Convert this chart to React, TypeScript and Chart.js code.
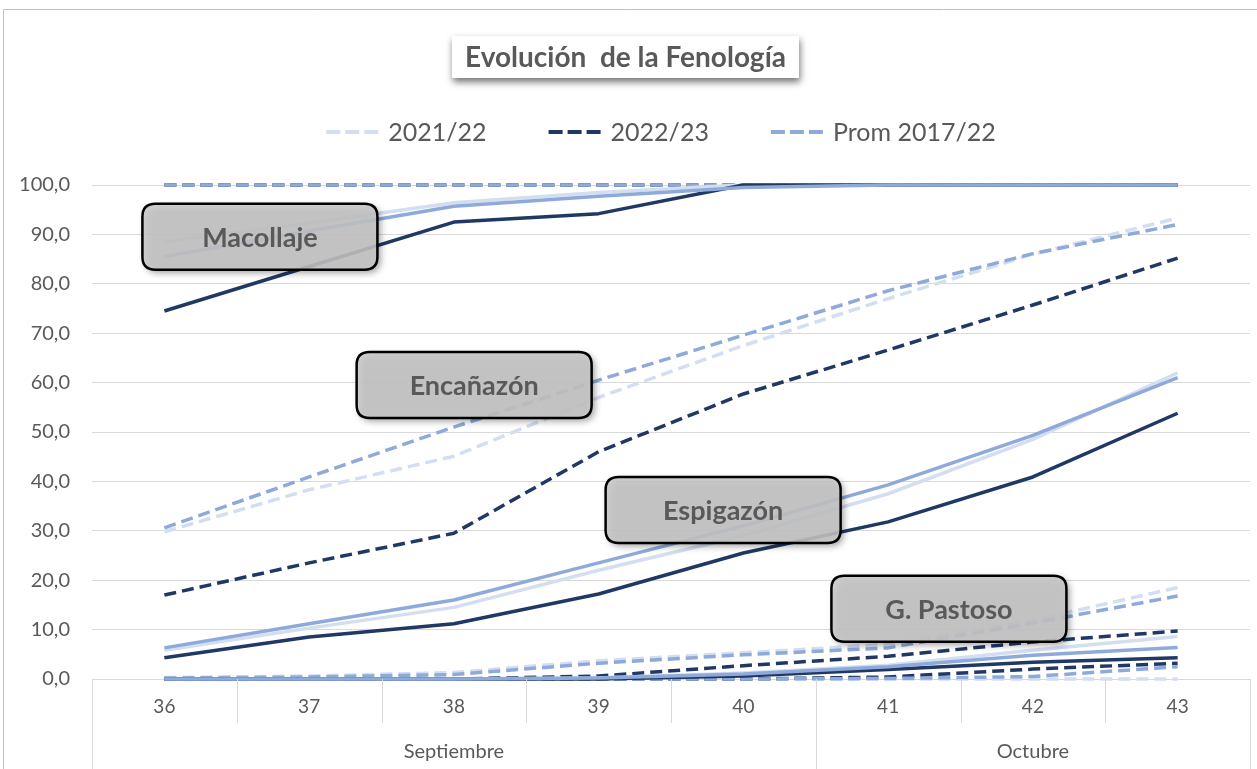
import { useEffect, useRef } from 'react';
import { Chart, registerables } from 'chart.js';

Chart.register(...registerables);

// ---------- data ----------
const weeks = ['36', '37', '38', '39', '40', '41', '42', '43'];
const months = ['Septiembre', 'Octubre'];
const monthSpans = [5, 3];
const seriesNames = ['2021/22', '2022/23', 'Prom 2017/22'];

const emergencia2122 = [100, 100, 100, 100, 100, 100, 100, 100];
const emergencia2223 = [100, 100, 100, 100, 100, 100, 100, 100];
const emergenciaProm = [100, 100, 100, 100, 100, 100, 100, 100];

const macollaje2122 = [88.5, 92.3, 96.4, 98.5, 100, 100, 100, 100];
const macollaje2223 = [74.5, 83.5, 92.5, 94.2, 100, 100, 100, 100];
const macollajeProm = [85.5, 90.7, 95.7, 97.7, 99.5, 100, 100, 100];

const encanazon2122 = [29.8, 38.3, 45.1, 57.0, 67.5, 77.0, 86.0, 93.3];
const encanazon2223 = [17.0, 23.5, 29.5, 46.0, 57.7, 66.6, 75.7, 85.2];
const encanazonProm = [30.6, 40.9, 51.0, 60.5, 69.6, 78.6, 86.1, 92.0];

const espigazon2122 = [5.8, 10.3, 14.5, 22.0, 29.0, 37.5, 48.5, 62.0];
const espigazon2223 = [4.3, 8.5, 11.2, 17.2, 25.5, 31.8, 40.9, 53.8];
const espigazonProm = [6.3, 11.2, 16.0, 23.5, 31.0, 39.3, 49.3, 61.0];

const lechoso2122 = [0.3, 0.6, 1.3, 3.7, 5.3, 7.0, 11.9, 18.5];
const lechoso2223 = [0, 0, 0, 0.6, 2.7, 4.6, 7.5, 9.7];
const lechosoProm = [0.2, 0.4, 0.9, 3.2, 4.9, 6.3, 11.3, 16.8];

const pastoso2122 = [0, 0, 0, 0.2, 1.2, 2.8, 5.8, 8.6];
const pastoso2223 = [0, 0, 0, 0, 0.6, 1.9, 3.4, 4.3];
const pastosoProm = [0, 0, 0, 0.2, 1.0, 2.5, 4.8, 6.4];

const madurez2122 = [0, 0, 0, 0, 0, 0, 0, 0];
const madurez2223 = [0, 0, 0, 0, 0, 0.4, 2.0, 3.2];
const madurezProm = [0, 0, 0, 0, 0, 0.1, 0.5, 2.5];

// annotation callouts (label, position in category index / value units)
const calloutLabels = ['Macollaje', 'Encañazón', 'Espigazón', 'G. Pastoso'];
const calloutX = [0.66, 2.14, 3.86, 5.42];
const calloutY = [89.5, 59.5, 34.2, 14.2];

const titleText = 'Evolución  de la Fenología';

// ---------- styles ----------
const FONT = 'Lato, "Open Sans", sans-serif';
const TEXT = '#595959';
const GRID = '#d9d9d9';
const colors = ['#d4def1', '#203864', '#8eaadb'];
const DASH = [12, 6];

type Stage = { name: string; dashed: boolean; values: number[][] };
const stages: Stage[] = [
  { name: 'Emergencia', dashed: true, values: [emergencia2122, emergencia2223, emergenciaProm] },
  { name: 'Macollaje', dashed: false, values: [macollaje2122, macollaje2223, macollajeProm] },
  { name: 'Encañazón', dashed: true, values: [encanazon2122, encanazon2223, encanazonProm] },
  { name: 'Espigazón', dashed: false, values: [espigazon2122, espigazon2223, espigazonProm] },
  { name: 'G. Lechoso', dashed: true, values: [lechoso2122, lechoso2223, lechosoProm] },
  { name: 'G. Pastoso', dashed: false, values: [pastoso2122, pastoso2223, pastosoProm] },
  { name: 'Madurez', dashed: true, values: [madurez2122, madurez2223, madurezProm] },
];

const roundRect = (ctx: CanvasRenderingContext2D, x: number, y: number, w: number, h: number, r: number) => {
  ctx.beginPath();
  ctx.moveTo(x + r, y);
  ctx.lineTo(x + w - r, y);
  ctx.quadraticCurveTo(x + w, y, x + w, y + r);
  ctx.lineTo(x + w, y + h - r);
  ctx.quadraticCurveTo(x + w, y + h, x + w - r, y + h);
  ctx.lineTo(x + r, y + h);
  ctx.quadraticCurveTo(x, y + h, x, y + h - r);
  ctx.lineTo(x, y + r);
  ctx.quadraticCurveTo(x, y, x + r, y);
  ctx.closePath();
};

const decorPlugin = {
  id: 'decor',
  beforeDraw(chart: any) {
    const ctx: CanvasRenderingContext2D = chart.ctx;
    ctx.save();
    ctx.fillStyle = '#ffffff';
    ctx.fillRect(0, 0, chart.width, chart.height);
    ctx.strokeStyle = '#c0c0c0';
    ctx.lineWidth = 1;
    ctx.beginPath();
    ctx.moveTo(3.5, chart.height);
    ctx.lineTo(3.5, 9.5);
    ctx.lineTo(chart.width, 9.5);
    ctx.stroke();
    ctx.restore();
  },
  afterDatasetsDraw(chart: any) {
    const ctx: CanvasRenderingContext2D = chart.ctx;
    const xs = chart.scales.x;
    const ys = chart.scales.y;
    const w = 235;
    const h = 66;
    calloutLabels.forEach((label, i) => {
      const cx = xs.getPixelForValue(calloutX[i]);
      const cy = ys.getPixelForValue(calloutY[i]);
      ctx.save();
      roundRect(ctx, cx - w / 2, cy - h / 2, w, h, 13);
      ctx.shadowColor = 'rgba(0,0,0,0.45)';
      ctx.shadowBlur = 7;
      ctx.shadowOffsetX = 3;
      ctx.shadowOffsetY = 3;
      ctx.fillStyle = 'rgba(200,200,200,0.86)';
      ctx.fill();
      ctx.shadowColor = 'transparent';
      ctx.lineWidth = 2.5;
      ctx.strokeStyle = '#000000';
      ctx.stroke();
      ctx.fillStyle = TEXT;
      ctx.font = `bold 27px ${FONT}`;
      ctx.textAlign = 'center';
      ctx.textBaseline = 'middle';
      ctx.fillText(label, cx, cy + 1);
      ctx.restore();
    });
  },
  afterDraw(chart: any) {
    const ctx: CanvasRenderingContext2D = chart.ctx;
    const xs = chart.scales.x;
    const area = chart.chartArea;
    ctx.save();
    // category separators and month groups
    const boundaries = [0];
    monthSpans.forEach((s) => boundaries.push(boundaries[boundaries.length - 1] + s));
    ctx.strokeStyle = GRID;
    ctx.lineWidth = 1;
    for (let i = 0; i <= weeks.length; i++) {
      const px = Math.round(xs.getPixelForValue(i - 0.5)) + 0.5;
      const long = boundaries.includes(i);
      ctx.beginPath();
      ctx.moveTo(px, area.bottom);
      ctx.lineTo(px, long ? chart.height : area.bottom + 44);
      ctx.stroke();
    }
    ctx.fillStyle = TEXT;
    ctx.font = `20px ${FONT}`;
    ctx.textAlign = 'center';
    ctx.textBaseline = 'middle';
    months.forEach((m, i) => {
      const a = xs.getPixelForValue(boundaries[i] - 0.5);
      const b = xs.getPixelForValue(boundaries[i + 1] - 0.5);
      ctx.fillText(m, (a + b) / 2, area.bottom + 73);
    });

    // title box
    ctx.font = `bold 28px ${FONT}`;
    const tw = ctx.measureText(titleText).width;
    const tcx = chart.width / 2 - 3;
    const bw = tw + 26;
    ctx.save();
    ctx.shadowColor = 'rgba(0,0,0,0.55)';
    ctx.shadowBlur = 7;
    ctx.shadowOffsetX = 1;
    ctx.shadowOffsetY = 4;
    ctx.fillStyle = '#ffffff';
    ctx.fillRect(tcx - bw / 2, 36, bw, 42);
    ctx.restore();
    ctx.fillStyle = TEXT;
    ctx.fillText(titleText, tcx, 58);

    // legend
    ctx.font = `25px ${FONT}`;
    const sample = 52;
    const gapText = 10;
    const gapItem = 62;
    const widths = seriesNames.map((n) => sample + gapText + ctx.measureText(n).width);
    const total = widths.reduce((a, b) => a + b, 0) + gapItem * (widths.length - 1);
    let lx = 661 - total / 2;
    const ly = 132;
    seriesNames.forEach((n, i) => {
      const ds = chart.data.datasets[i];
      ctx.save();
      ctx.strokeStyle = ds.borderColor;
      ctx.lineWidth = 4;
      ctx.setLineDash([14, 5]);
      ctx.beginPath();
      ctx.moveTo(lx, ly);
      ctx.lineTo(lx + sample, ly);
      ctx.stroke();
      ctx.restore();
      ctx.fillStyle = TEXT;
      ctx.textAlign = 'left';
      ctx.fillText(n, lx + sample + gapText, ly + 1);
      lx += widths[i] + gapItem;
    });
    ctx.restore();
  },
};

export default function App() {
  const ref = useRef<HTMLCanvasElement | null>(null);

  useEffect(() => {
    if (!ref.current) return;
    const datasets: any[] = [];
    stages.forEach((st) => {
      st.values.forEach((vals, si) => {
        datasets.push({
          label: seriesNames[si],
          stage: st.name,
          data: vals,
          borderColor: colors[si],
          backgroundColor: colors[si],
          borderWidth: 3.5,
          borderDash: st.dashed ? DASH : [],
          borderCapStyle: 'butt',
          borderJoinStyle: 'round',
          pointRadius: 0,
          pointHoverRadius: 0,
          tension: 0,
          fill: false,
          clip: 8,
          order: (st.dashed ? 20 : 10) - si,
        });
      });
    });

    const chart = new Chart(ref.current, {
      type: 'line',
      data: { labels: weeks, datasets },
      options: {
        animation: false,
        responsive: true,
        maintainAspectRatio: false,
        events: [],
        layout: { padding: { top: 185, right: 7, bottom: 0, left: 0 } },
        plugins: {
          legend: { display: false },
          title: { display: false },
          tooltip: { enabled: false },
        },
        scales: {
          x: {
            offset: true,
            grid: { display: false, drawOnChartArea: false, drawTicks: false },
            border: { display: true, color: GRID },
            ticks: { color: TEXT, font: { family: FONT, size: 19 }, padding: 16 },
            afterFit: (s: any) => {
              s.height = 90;
            },
          },
          y: {
            min: 0,
            max: 100,
            ticks: {
              stepSize: 10,
              color: TEXT,
              font: { family: FONT, size: 20 },
              padding: 22,
              callback: (v: any) => Number(v).toFixed(1).replace('.', ','),
            },
            grid: { color: GRID, drawTicks: false },
            border: { display: false },
            afterFit: (s: any) => {
              s.width = 92;
            },
          },
        },
      },
      plugins: [decorPlugin],
    });
    return () => chart.destroy();
  }, []);

  return (
    <div style={{ position: 'absolute', left: 0, top: 0, width: 1257, height: 769 }}>
      <canvas ref={ref} />
    </div>
  );
}
